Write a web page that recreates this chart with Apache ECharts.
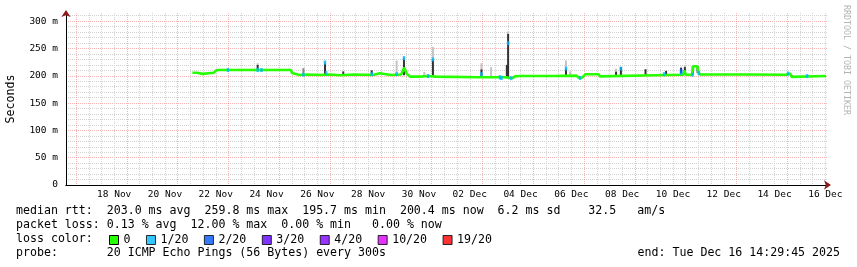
<!DOCTYPE html>
<html><head><meta charset="utf-8">
<script src="https://cdn.jsdelivr.net/npm/echarts@6/dist/echarts.min.js"></script>
<style>html,body{margin:0;padding:0;background:#fff}#c{width:857px;height:267px}</style>
</head><body><div id="c"></div>
<script>
// time axis in days since 16 Nov 2025 00:00 (start 14:29:45, end 16 Dec 14:29:45)
const START_DAY = 0.604;
const END_DAY = 30.604;

const xLabelDays = [2.5,4.5,6.5,8.5,10.5,12.5,14.5,16.5,18.5,20.5,22.5,24.5,26.5,28.5,30.5];
const xLabelText = ['18 Nov','20 Nov','22 Nov','24 Nov','26 Nov','28 Nov','30 Nov','02 Dec','04 Dec','06 Dec','08 Dec','10 Dec','12 Dec','14 Dec','16 Dec'];
const xMajorDays = [1,3,5,7,9,11,13,15,17,19,21,23,25,27,29];
const xMinorDays = [1.5,2,2.5,3.5,4,4.5,5.5,6,6.5,7.5,8,8.5,9.5,10,10.5,11.5,12,12.5,13.5,14,14.5,15.5,16,16.5,17.5,18,18.5,19.5,20,20.5,21.5,22,22.5,23.5,24,24.5,25.5,26,26.5,27.5,28,28.5,29.5,30,30.5];
const yLabelValues = [0,50,100,150,200,250,300];
const yMinorValues = [10,20,30,40,60,70,80,90,110,120,130,140,160,170,180,190,210,220,230,240,260,270,280,290,310];
const yMajorValues = [50,100,150,200,250,300];

// median rtt (ms)
const medianDays = [5.58,5.76,5.78,5.98,6.00,6.42,6.47,6.53,9.46,9.50,9.55,9.80,9.85,10.10,10.15,10.60,10.65,11.00,11.05,11.40,11.45,11.95,12.00,12.70,12.74,12.95,13.00,13.40,13.45,13.80,13.86,13.92,13.97,14.02,14.08,14.14,14.55,14.60,14.85,14.90,15.17,15.20,16.90,16.95,17.02,17.55,17.62,17.70,17.95,18.05,18.12,18.20,18.28,18.45,19.80,19.85,20.70,20.78,20.90,20.98,21.05,21.58,21.62,21.68,23.80,23.85,24.90,24.95,25.00,25.25,25.30,25.46,25.50,25.56,27.40,27.45,28.95,29.00,29.12,29.17,29.24,30.53];
const medianMs   = [205.5,205.5,203.5,203.5,205.5,205.5,208.5,210.5,210.5,205,201.5,201.5,202.5,202.5,201.5,201.5,202.5,202.5,201,201,202.5,202.5,201.5,201.5,204.5,204.5,201.5,201.5,202.5,202.5,206,215,209,204,201,198.5,198.5,199.5,199.5,198.5,198.5,197.3,197.3,199,197.3,197.3,196,197.5,197.3,196,195.7,196,199,199.5,199.5,200.3,200.3,197,195.8,199,202.8,202.8,199,201,201,201.8,201.8,210,202,202,217.5,217.5,207,202.5,202.5,202,202,204,204,198,199.5,199.5];

// smoke (spread of individual pings): day, low ms, high ms, shade (0 light, 1 mid, 2 dark)
const smokeDays  = [8.15,8.15,9.95,10.80,10.80,11.52,12.64,13.62,13.91,13.91,14.71,15.05,15.05,16.96,16.96,17.34,17.69,17.96,18.01,18.01,20.29,20.29,20.45,22.26,22.26,22.45,23.42,24.23,24.82,24.97,24.97,25.28,25.47,29.19];
const smokeLow   = [211,220,203,203,223,202,202,204,201,232,200,199,230,198,212,199,196,198,197,277,201,213,200,201,208,201,201,201,201,205,216,202,205,197];
const smokeHigh  = [220,223,214,223,228,208,210,228,232,236,207,230,253,212,223,216,200,220,277,281,213,228,208,208,213,216,212,209,215,216,219,218,218,201];
const smokeShade = [2,0,1,2,0,2,2,0,2,0,0,2,0,2,0,0,2,2,2,0,2,0,0,2,0,2,2,2,2,2,0,2,2,2];

// loss-coloured median points
const loss1Days = [6.98,8.15,8.30,9.95,10.80,10.85,12.64,13.62,13.91,14.86,15.05,16.96,17.69,17.75,18.01,18.13,20.29,20.84,22.45,24.15,24.82,25.27,25.52,29.03,29.78];
const loss1Ms   = [210.5,210.5,210.5,202,224,205,203,203,232,199.5,230,203,197,196,259.8,195.7,213,196,213,203,205,202,205,204,199.5];
const loss2Days = [24.82];
const loss2Ms   = [209];

const lossLabels = ['0','1/20','2/20','3/20','4/20','10/20','19/20'];
const lossColors = ['#26ff00','#00b8ff','#0059ff','#5e00ff','#7e00ff','#dd00ff','#ff0000'];

const statLines = [
  'median rtt:  203.0 ms avg  259.8 ms max  195.7 ms min  200.4 ms now  6.2 ms sd    32.5   am/s',
  'packet loss: 0.13 % avg  12.00 % max  0.00 % min   0.00 % now',
  'loss color:',
  'probe:       20 ICMP Echo Pings (56 Bytes) every 300s'
];
const endText = 'end: Tue Dec 16 14:29:45 2025';

const MONO = '"DejaVu Sans Mono", monospace';
const smokeColors = ['#c4c4c4', '#8a8a8a', '#333333'];
const gridGrey = '#d2d2d2';
const gridRed = 'rgba(240,120,120,0.55)';
const arrowRed = '#8b1a1a';

const zip = (a, b) => a.map((v, i) => [v, b[i]]);
const lossData = [zip(loss1Days, loss1Ms), zip(loss2Days, loss2Ms), [], [], [], []];

const chart = echarts.init(document.getElementById('c'), null, {renderer: 'canvas'});

const series = [
  {
    type: 'custom', name: 'smoke', xAxisIndex: 0, yAxisIndex: 0, z: 1,
    data: smokeDays.map((d, i) => [d, smokeLow[i], smokeHigh[i], smokeShade[i]]),
    encode: {x: 0, y: [1, 2]},
    renderItem: function (params, api) {
      const p1 = api.coord([api.value(0), api.value(1)]);
      const p2 = api.coord([api.value(0), api.value(2)]);
      return {type: 'rect', shape: {x: p1[0] - 1, y: p2[1], width: 2, height: p1[1] - p2[1]},
              style: {fill: smokeColors[api.value(3)]}};
    },
    silent: true
  },
  {
    type: 'line', name: lossLabels[0], xAxisIndex: 0, yAxisIndex: 0, z: 2,
    data: zip(medianDays, medianMs), showSymbol: false, symbol: 'none',
    color: lossColors[0], lineStyle: {color: lossColors[0], width: 2.6}, silent: true
  }
];
for (let k = 1; k < lossLabels.length; k++) {
  series.push({
    type: 'scatter', name: lossLabels[k], xAxisIndex: 0, yAxisIndex: 0, z: 3,
    data: lossData[k - 1], symbol: 'rect', symbolSize: [2.5, 4],
    color: lossColors[k], itemStyle: {color: lossColors[k]}, silent: true
  });
}

const option = {
  backgroundColor: '#ffffff',
  animation: false,
  grid: {left: 66, top: 13, width: 762, height: 172, containLabel: false, outerBoundsMode: 'none'},
  xAxis: [
    {
      type: 'value', position: 'bottom', min: START_DAY, max: END_DAY,
      axisLine: {show: true, onZero: false, symbol: ['none', 'arrow'], symbolSize: [7, 7], symbolOffset: [0, 3],
                 lineStyle: {color: arrowRed, width: 1}},
      axisTick: {show: false, customValues: xMinorDays},
      splitLine: {show: true, lineStyle: {color: gridGrey, width: 1, type: [1, 1]}},
      axisLabel: {
        show: true, customValues: xLabelDays, margin: 5,
        formatter: function (v) {
          let best = 0;
          for (let i = 0; i < xLabelDays.length; i++) if (Math.abs(xLabelDays[i] - v) < Math.abs(xLabelDays[best] - v)) best = i;
          return xLabelText[best];
        },
        fontFamily: MONO, fontSize: 9.5, color: '#000'
      }
    },
    {
      type: 'value', position: 'bottom', min: START_DAY, max: END_DAY,
      axisLine: {show: true, onZero: false, lineStyle: {color: '#000', width: 1}},
      axisTick: {show: false, customValues: xMajorDays},
      splitLine: {show: true, lineStyle: {color: gridRed, width: 1, type: [1, 1]}},
      axisLabel: {show: false}
    }
  ],
  yAxis: [
    {
      type: 'value', position: 'left', min: 0, max: 315,
      name: 'Seconds', nameLocation: 'middle', nameRotate: 90, nameGap: 49,
      nameTextStyle: {fontFamily: MONO, fontSize: 11.6, color: '#000'},
      axisLine: {show: true, symbol: ['none', 'arrow'], symbolSize: [7, 7], symbolOffset: [0, 3],
                 lineStyle: {color: arrowRed, width: 1}},
      axisTick: {show: false, customValues: yMinorValues},
      splitLine: {show: true, lineStyle: {color: gridGrey, width: 1, type: [1, 1]}},
      axisLabel: {
        show: true, customValues: yLabelValues, margin: 8,
        formatter: function (v) { return v === 0 ? '0' : v + ' m'; },
        fontFamily: MONO, fontSize: 9.5, color: '#000'
      }
    },
    {
      type: 'value', position: 'left', min: 0, max: 315,
      axisLine: {show: true, lineStyle: {color: '#000', width: 1}},
      axisTick: {show: false, customValues: yMajorValues},
      splitLine: {show: true, lineStyle: {color: gridRed, width: 1, type: [1, 1]}},
      axisLabel: {show: false}
    }
  ],
  legend: {
    data: lossLabels, left: 109, top: 234, padding: 0,
    icon: 'rect', itemWidth: 9, itemHeight: 9, itemGap: 15.5, selectedMode: false,
    itemStyle: {borderColor: '#000', borderWidth: 1},
    textStyle: {fontFamily: MONO, fontSize: 11.6, color: '#000'}
  },
  graphic: [
    {type: 'text', x: 16, y: 211, silent: true, style: {text: statLines[0], font: '11.6px ' + MONO, fill: '#000', verticalAlign: 'middle'}},
    {type: 'text', x: 16, y: 225, silent: true, style: {text: statLines[1], font: '11.6px ' + MONO, fill: '#000', verticalAlign: 'middle'}},
    {type: 'text', x: 16, y: 239, silent: true, style: {text: statLines[2], font: '11.6px ' + MONO, fill: '#000', verticalAlign: 'middle'}},
    {type: 'text', x: 16, y: 253, silent: true, style: {text: statLines[3], font: '11.6px ' + MONO, fill: '#000', verticalAlign: 'middle'}},
    {type: 'text', x: 840, y: 253, silent: true, style: {text: endText, font: '11.6px ' + MONO, fill: '#000', align: 'right', verticalAlign: 'middle'}},
    {type: 'text', x: 846, y: 5, rotation: -Math.PI / 2, silent: true,
     style: {text: 'RRDTOOL / TOBI OETIKER', font: '8.3px ' + MONO, fill: '#b4b4b4', align: 'left', verticalAlign: 'middle'}}
  ],
  series: series
};
chart.setOption(option);
</script>
</body></html>
